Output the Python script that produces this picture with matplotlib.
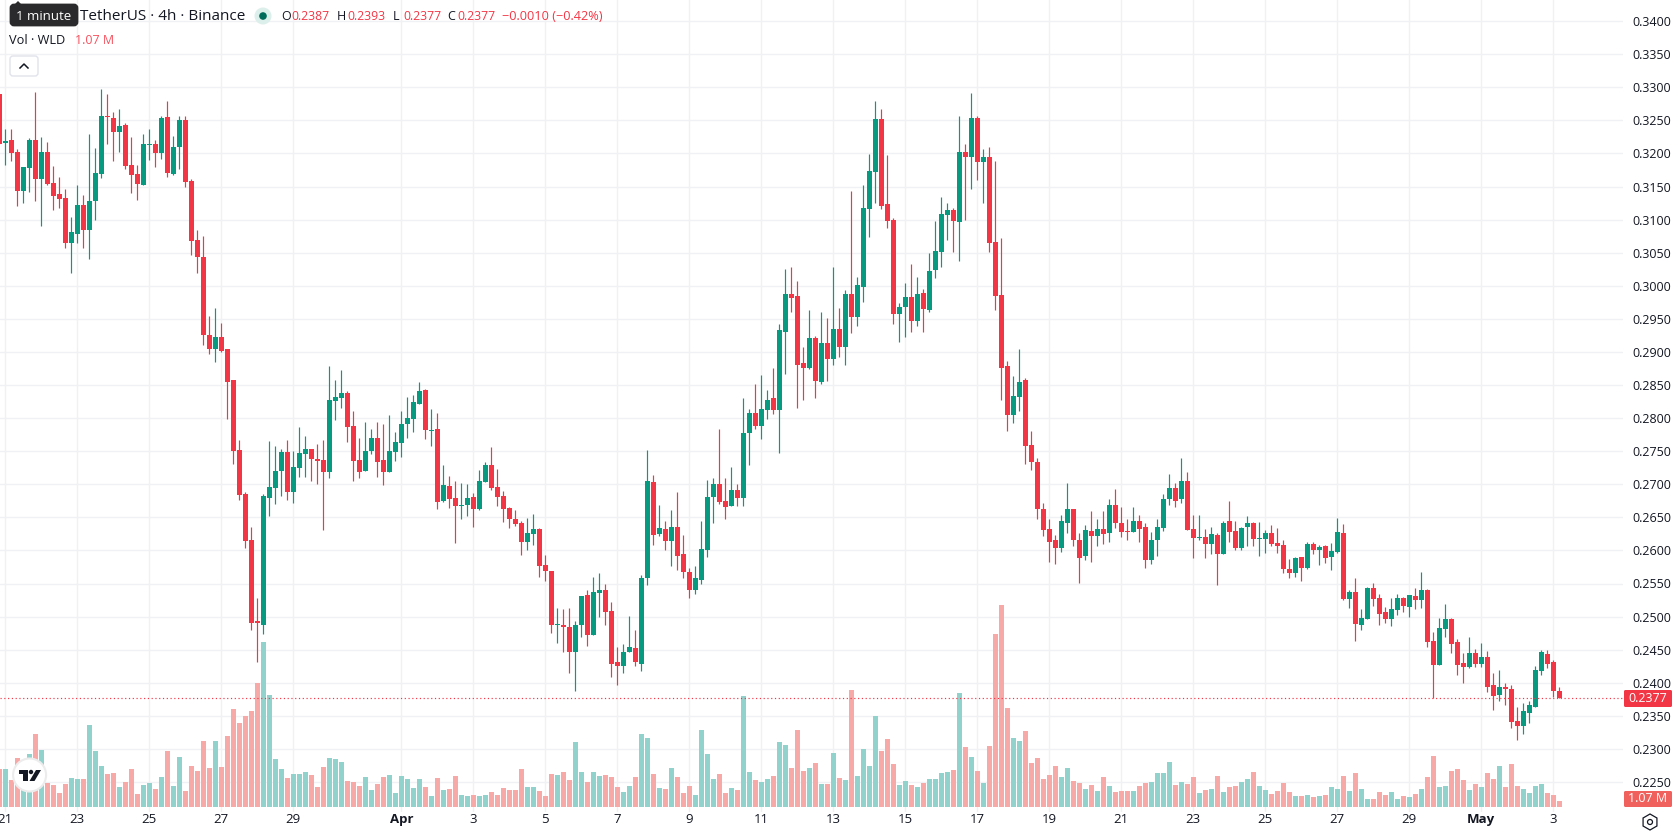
import matplotlib
matplotlib.use('Agg')
import matplotlib.pyplot as plt
from matplotlib.patches import Circle, FancyBboxPatch, Polygon, Rectangle, RegularPolygon
import numpy as np

# 4h candles, prices in 1/10000 of a USDT
opens = [3290,3216,3220,3202,3144,3178,3220,3161,3202,3155,
         3138,3132,3064,3079,3122,3085,3128,3169,3257,3254,
         3232,3243,3182,3169,3152,3213,3214,3201,3255,3169,
         3210,3251,3158,3069,3044,2926,2905,2923,2904,2857,
         2752,2685,2616,2494,2488,2679,2694,2720,2749,2688,
         2725,2746,2754,2738,2737,2719,2826,2831,2838,2788,
         2737,2720,2751,2770,2737,2719,2749,2763,2791,2799,
         2822,2843,2781,2784,2675,2697,2679,2667,2669,2681,
         2663,2704,2729,2696,2682,2664,2647,2641,2613,2625,
         2632,2578,2569,2487,2488,2485,2447,2488,2532,2472,
         2535,2540,2508,2431,2425,2446,2452,2429,2558,2704,
         2625,2632,2614,2636,2594,2568,2540,2556,2600,2680,
         2701,2674,2667,2692,2679,2777,2807,2788,2812,2830,
         2812,2930,2987,2984,2883,2875,2921,2854,2914,2890,
         2934,2908,2988,2953,2998,3116,3172,3252,3124,3100,
         2957,2968,2983,2947,2989,2963,3024,3051,3107,3115,
         3096,3202,3195,3254,3187,3195,3066,2986,2878,2804,
         2832,2857,2760,2734,2663,2633,2615,2603,2642,2663,
         2616,2591,2630,2622,2633,2627,2669,2642,2630,2628,
         2645,2636,2585,2616,2634,2677,2695,2677,2705,2633,
         2619,2621,2609,2624,2595,2644,2630,2604,2635,2642,
         2618,2618,2627,2611,2608,2572,2566,2590,2574,2610,
         2601,2607,2590,2598,2627,2527,2537,2488,2497,2543,
         2528,2507,2497,2510,2528,2515,2531,2525,2540,2463,
         2427,2481,2497,2462,2430,2424,2445,2429,2439,2397,
         2381,2394,2391,2342,2334,2355,2364,2417,2444,2431,
         2387]
closes = [3214,3219,3201,3144,3179,3220,3161,3202,3154,3135,
          3131,3064,3081,3122,3084,3128,3170,3257,3255,3232,
          3241,3181,3167,3154,3214,3214,3201,3254,3170,3210,
          3251,3157,3067,3044,2925,2904,2923,2902,2855,2751,
          2684,2614,2491,2490,2682,2696,2720,2749,2688,2726,
          2747,2754,2738,2735,2719,2828,2832,2838,2787,2735,
          2719,2751,2770,2734,2719,2751,2764,2791,2800,2825,
          2841,2782,2782,2673,2699,2678,2667,2669,2679,2663,
          2705,2729,2694,2681,2663,2647,2640,2613,2626,2632,
          2576,2569,2487,2488,2484,2447,2488,2531,2472,2537,
          2540,2507,2429,2425,2447,2454,2431,2558,2705,2623,
          2634,2614,2636,2591,2567,2540,2558,2602,2680,2700,
          2673,2665,2692,2679,2778,2807,2788,2813,2828,2812,
          2933,2987,2982,2881,2875,2921,2856,2913,2889,2934,
          2908,2987,2953,3001,3118,3174,3252,3121,3098,2957,
          2968,2983,2947,2988,2965,3022,3053,3109,3115,3098,
          3202,3195,3254,3187,3195,3065,2985,2876,2804,2834,
          2855,2758,2733,2662,2631,2613,2603,2644,2662,2616,
          2589,2631,2622,2633,2625,2669,2641,2628,2628,2645,
          2633,2585,2616,2636,2678,2695,2675,2705,2631,2619,
          2621,2609,2625,2594,2642,2628,2603,2634,2641,2618,
          2619,2627,2610,2607,2572,2566,2589,2574,2610,2601,
          2605,2589,2599,2628,2527,2537,2489,2498,2543,2527,
          2504,2497,2512,2528,2516,2533,2525,2540,2462,2427,
          2483,2497,2459,2427,2424,2445,2429,2439,2394,2380,
          2393,2390,2340,2334,2357,2366,2419,2446,2429,2387,
          2377]
highs = [3290,3237,3237,3207,3179,3223,3293,3225,3217,3181,
         3164,3146,3104,3152,3137,3229,3208,3297,3290,3263,
         3267,3246,3225,3182,3229,3237,3220,3257,3279,3226,
         3257,3257,3161,3085,3075,2954,2966,2944,2904,2858,
         2767,2688,2635,2528,2685,2766,2758,2754,2767,2751,
         2787,2773,2754,2761,2767,2878,2857,2873,2841,2810,
         2770,2794,2784,2794,2791,2804,2779,2810,2832,2835,
         2854,2844,2813,2807,2729,2713,2705,2702,2701,2687,
         2722,2734,2757,2723,2690,2666,2661,2644,2649,2655,
         2634,2593,2569,2513,2511,2513,2494,2531,2540,2560,
         2566,2549,2522,2454,2458,2501,2479,2563,2752,2714,
         2669,2644,2661,2689,2623,2574,2577,2644,2707,2710,
         2783,2709,2726,2700,2830,2813,2852,2865,2843,2875,
         2942,3026,3029,3007,2908,2964,2924,2960,2951,3029,
         2967,2993,3143,3013,3152,3199,3279,3267,3198,3102,
         2974,3004,3033,3013,2995,3050,3098,3134,3125,3118,
         3257,3214,3291,3257,3207,3210,3189,3072,2887,2864,
         2904,2861,2780,2740,2672,2647,2624,2654,2702,2663,
         2627,2639,2660,2648,2660,2677,2693,2665,2648,2666,
         2654,2641,2628,2648,2686,2716,2702,2739,2718,2653,
         2654,2633,2636,2627,2645,2675,2645,2636,2652,2643,
         2643,2631,2639,2634,2616,2587,2590,2590,2613,2613,
         2608,2608,2611,2649,2640,2540,2559,2512,2545,2551,
         2534,2515,2528,2534,2530,2533,2543,2568,2542,2477,
         2498,2519,2498,2466,2445,2469,2451,2460,2448,2415,
         2420,2400,2397,2363,2369,2373,2425,2450,2449,2435,
         2393]
lows = [3214,3182,3188,3120,3125,3141,3128,3090,3152,3114,
        3117,3057,3019,3064,3057,3040,3099,3163,3214,3188,
        3202,3176,3140,3129,3152,3190,3179,3191,3164,3167,
        3176,3149,3046,3019,2910,2897,2885,2900,2799,2731,
        2676,2604,2479,2432,2473,2652,2670,2682,2676,2672,
        2711,2711,2705,2700,2631,2710,2797,2816,2764,2705,
        2710,2720,2746,2711,2699,2719,2735,2741,2770,2779,
        2822,2769,2758,2663,2673,2664,2611,2647,2652,2635,
        2661,2704,2691,2667,2643,2634,2637,2593,2601,2608,
        2560,2554,2475,2460,2447,2414,2388,2469,2455,2472,
        2499,2488,2408,2397,2414,2446,2425,2417,2547,2608,
        2622,2600,2577,2571,2558,2528,2534,2549,2590,2641,
        2670,2647,2667,2667,2667,2729,2784,2769,2798,2806,
        2748,2866,2961,2815,2827,2874,2831,2852,2856,2881,
        2892,2881,2929,2939,2976,3074,3125,3116,3087,2942,
        2915,2923,2930,2939,2930,2960,3012,3028,3069,3051,
        3038,3100,3146,3160,3125,3051,2963,2827,2781,2792,
        2811,2731,2721,2647,2622,2582,2580,2597,2627,2606,
        2551,2586,2583,2606,2610,2613,2634,2621,2616,2628,
        2612,2574,2579,2592,2630,2669,2665,2672,2631,2588,
        2615,2589,2594,2548,2594,2613,2600,2600,2607,2607,
        2592,2596,2607,2596,2566,2559,2560,2554,2572,2595,
        2578,2581,2571,2596,2525,2513,2463,2480,2497,2516,
        2488,2491,2486,2503,2507,2500,2512,2513,2454,2377,
        2427,2469,2445,2412,2400,2423,2424,2424,2386,2359,
        2373,2366,2331,2313,2322,2339,2363,2411,2422,2379,
        2377]

# volume per candle, millions of WLD
volumes = [7.18,7.18,5.10,9.26,8.88,10.02,13.80,10.77,4.54,4.16,
           2.65,4.35,5.48,5.29,5.29,15.50,10.58,7.75,6.24,6.43,
           3.78,4.73,7.18,2.46,4.16,4.54,3.40,5.67,10.58,3.97,
           9.45,3.02,7.75,6.80,12.47,7.37,12.47,7.56,13.42,18.52,
           15.88,17.20,18.14,23.44,31.19,21.17,9.07,7.18,5.48,6.24,
           6.24,6.62,6.05,3.78,7.56,9.26,9.07,8.51,4.91,4.73,
           3.97,5.67,3.21,4.35,5.67,6.05,2.65,5.86,5.29,3.59,
           5.29,3.78,2.08,5.48,3.21,3.40,5.86,2.27,2.08,2.27,
           2.08,2.27,2.84,2.27,3.59,3.21,3.21,7.18,3.78,3.78,
           3.02,2.08,6.24,6.05,6.62,5.10,12.29,6.62,4.73,6.62,
           5.86,6.05,5.67,3.78,2.84,3.97,5.67,13.80,13.04,6.24,
           3.59,3.40,7.37,5.67,2.65,3.97,2.27,14.55,10.02,5.29,
           6.24,2.65,3.59,3.21,20.98,6.62,5.10,4.73,5.29,5.86,
           12.29,11.72,7.37,14.55,6.80,7.37,8.32,4.35,4.35,10.21,
           5.48,5.10,22.11,5.86,10.96,7.75,17.20,10.58,12.85,8.13,
           4.16,4.91,4.16,3.78,4.54,5.29,5.29,6.43,6.62,6.99,
           21.55,11.34,9.45,6.80,4.54,11.53,32.70,38.18,18.71,13.04,
           12.47,14.36,8.32,9.26,5.29,6.05,7.75,5.67,7.37,4.91,
           4.54,3.40,4.16,3.02,5.67,3.97,2.84,2.96,2.96,2.96,
           3.91,4.47,4.66,6.36,6.36,8.44,4.10,4.66,4.28,5.61,
           2.58,3.15,3.34,5.80,2.77,3.72,3.91,4.66,5.23,6.55,
           3.91,3.15,2.39,2.96,4.47,2.77,2.02,2.02,2.21,1.83,
           2.02,2.21,3.72,3.34,5.80,2.96,6.36,3.34,1.45,1.45,
           2.77,2.21,2.77,1.45,2.02,1.83,2.39,3.34,5.61,9.58,
           3.72,3.91,6.74,7.12,5.04,3.15,4.28,3.72,6.36,5.23,
           7.69,3.72,8.06,3.91,3.34,2.58,3.91,4.28,2.58,2.21,
           1.07]

date_ticks = [1,13,25,37,49,67,79,91,103,115,127,139,151,163,175,187,199,211,223,235,247,259]
date_labels = ['21','23','25','27','29','Apr','3','5','7','9','11','13','15','17','19',
               '21','23','25','27','29','May','3']
price_ticks = [0.225,0.23,0.235,0.24,0.245,0.25,0.255,0.26,0.265,0.27,0.275,0.28,0.285,
               0.29,0.295,0.30,0.305,0.31,0.315,0.32,0.325,0.33,0.335,0.34]
last_price = 0.2377

UP = '#089981'
DOWN = '#f23645'
VOL_UP = '#92d2cc'
VOL_DOWN = '#f7a9a7'
GRID = '#f0f1f4'
TEXT = '#131722'

plt.rcParams['font.family'] = ['Open Sans', 'DejaVu Sans']

W, H = 1678, 835
PANE_R, PANE_B = 1623, 812

o = np.array(opens) / 10000
c = np.array(closes) / 10000
hi = np.array(highs) / 10000
lo = np.array(lows) / 10000
vol = np.array(volumes)
idx = np.arange(len(o))
up = c >= o

fig = plt.figure(figsize=(W / 100, H / 100), dpi=100)
pane = [0, 1 - PANE_B / H, PANE_R / W, PANE_B / H]

# volume sits on its own scale behind the candles
ax_vol = fig.add_axes(pane, zorder=1)
ax = fig.add_axes(pane, zorder=2)
ax.patch.set_visible(False)

px_per_candle = 6.0
xlim = (0.7 / px_per_candle, (PANE_R + 0.7) / px_per_candle)
px_per_price = 33.08 / 0.005
y_top = 0.33 + 87.3 / px_per_price
y_bot = 0.33 - (PANE_B - 87.3) / px_per_price

ax_vol.set_xlim(xlim)
ax_vol.set_ylim(-5 * 0.189, 807 * 0.189)
ax_vol.axis('off')
ax_vol.bar(idx, vol, width=5 / 6, color=[VOL_UP if u else VOL_DOWN for u in up], linewidth=0)

ax.set_xlim(xlim)
ax.set_ylim(y_bot, y_top)

# grid goes on the background of the lowest axes so bars cover it
for t in date_ticks:
    ax_vol.axvline(t, color=GRID, lw=1, zorder=0)
for p in price_ticks:
    y_vol = ax_vol.get_ylim()[0] + (p - y_bot) / (y_top - y_bot) * (ax_vol.get_ylim()[1] - ax_vol.get_ylim()[0])
    ax_vol.axhline(y_vol, color=GRID, lw=1, zorder=0)

colors = np.where(up, UP, DOWN)
ax.vlines(idx, lo, hi, colors=colors, lw=0.85, zorder=3)
ax.bar(idx, np.maximum(np.abs(c - o), 0.00015), bottom=np.minimum(o, c), width=5 / 6,
       color=colors, linewidth=0, zorder=4)
ax.axhline(last_price, color=DOWN, lw=0.85, linestyle=(0, (1, 2.2)), zorder=5)

ax.yaxis.tick_right()
ax.set_yticks(price_ticks)
ax.set_yticklabels([f'{p:.4f}' for p in price_ticks], fontsize=9, color=TEXT)
ax.set_xticks(date_ticks)
ax.set_xticklabels(date_labels, fontsize=9.5, color=TEXT)
for lab in ax.get_xticklabels():
    if lab.get_text() in ('Apr', 'May'):
        lab.set_fontweight('bold')
ax.tick_params(axis='both', length=0)
ax.tick_params(axis='y', pad=7)
ax.tick_params(axis='x', pad=1)
for s in ax.spines.values():
    s.set_visible(False)

# screen-space layer for the legend row, badges and buttons
ui = fig.add_axes([0, 0, 1, 1], zorder=5)
ui.set_xlim(0, W)
ui.set_ylim(H, 0)
ui.axis('off')

ui.add_patch(FancyBboxPatch((11, 5), 66, 20, boxstyle='round,pad=0,rounding_size=3',
                            fc='#2a2a2c', ec='#2a2a2c', lw=2))
ui.add_patch(Polygon([(15, 4), (18, 1), (21, 4)], fc='#2a2a2c', ec='none'))
ui.text(44, 16, '1 minute', color='white', fontsize=9.5, ha='center', va='center')
ui.text(80, 16, 'TetherUS · 4h · Binance', color=TEXT, fontsize=11, va='center')
ui.add_patch(Circle((263, 16), 8.5, fc='#dcefeb', ec='none'))
ui.add_patch(Circle((263, 16), 3.8, fc='#006b5b', ec='none'))

ohlc_row = [(281, 'O', 0.2387), (337, 'H', 0.2393), (393, 'L', 0.2377), (447, 'C', 0.2377)]
for x, name, val in ohlc_row:
    ui.text(x, 16, name, color=TEXT, fontsize=9, va='center')
    ui.text(x + 10, 16, f'{val:.4f}', color=DOWN, fontsize=8.8, va='center')
ui.text(502, 16, '−0.0010 (−0.42%)', color=DOWN, fontsize=9.2, va='center')
ui.text(9, 41, 'Vol · WLD', color=TEXT, fontsize=9.2, va='center')
ui.text(75, 41, '1.07 M', color='#f7525f', fontsize=9, va='center')

ui.add_patch(FancyBboxPatch((10, 56), 28, 20, boxstyle='round,pad=0,rounding_size=3',
                            fc='white', ec='#e0e3eb', lw=1))
ui.plot([20, 24, 28], [68, 64, 68], color=TEXT, lw=1.1)

# price and volume badges on the scale
ui.add_patch(FancyBboxPatch((1624, 690), 48, 17, boxstyle='round,pad=0,rounding_size=1.5',
                            fc=DOWN, ec='none'))
ui.text(1648, 698.5, f'{last_price:.4f}', color='white', fontsize=9, ha='center', va='center')
ui.add_patch(FancyBboxPatch((1624, 791), 48, 16, boxstyle='round,pad=0,rounding_size=1.5',
                            fc='#f0605c', ec='none'))
ui.text(1648, 799, '1.07 M', color='white', fontsize=9, ha='center', va='center')

ui.add_patch(RegularPolygon((1650, 822), 6, radius=8, fc='white', ec=TEXT, lw=0.9))
ui.add_patch(Circle((1650, 822), 2.5, fc='white', ec=TEXT, lw=0.9))

# round logo, lower left
ui.add_patch(Circle((29.6, 775), 16.5, fc='white', ec='#ececec', lw=1.5))
ui.add_patch(Rectangle((18.6, 770), 9, 4, fc='#131722', ec='none'))
ui.add_patch(Rectangle((23, 770), 4.5, 11, fc='#131722', ec='none'))
ui.add_patch(Circle((31, 772), 2.2, fc='#131722', ec='none'))
ui.add_patch(Polygon([(36, 770), (41, 770), (34.5, 781), (29.5, 781)], fc='#131722', ec='none'))

fig.savefig('out.png', dpi=100, facecolor='white')
